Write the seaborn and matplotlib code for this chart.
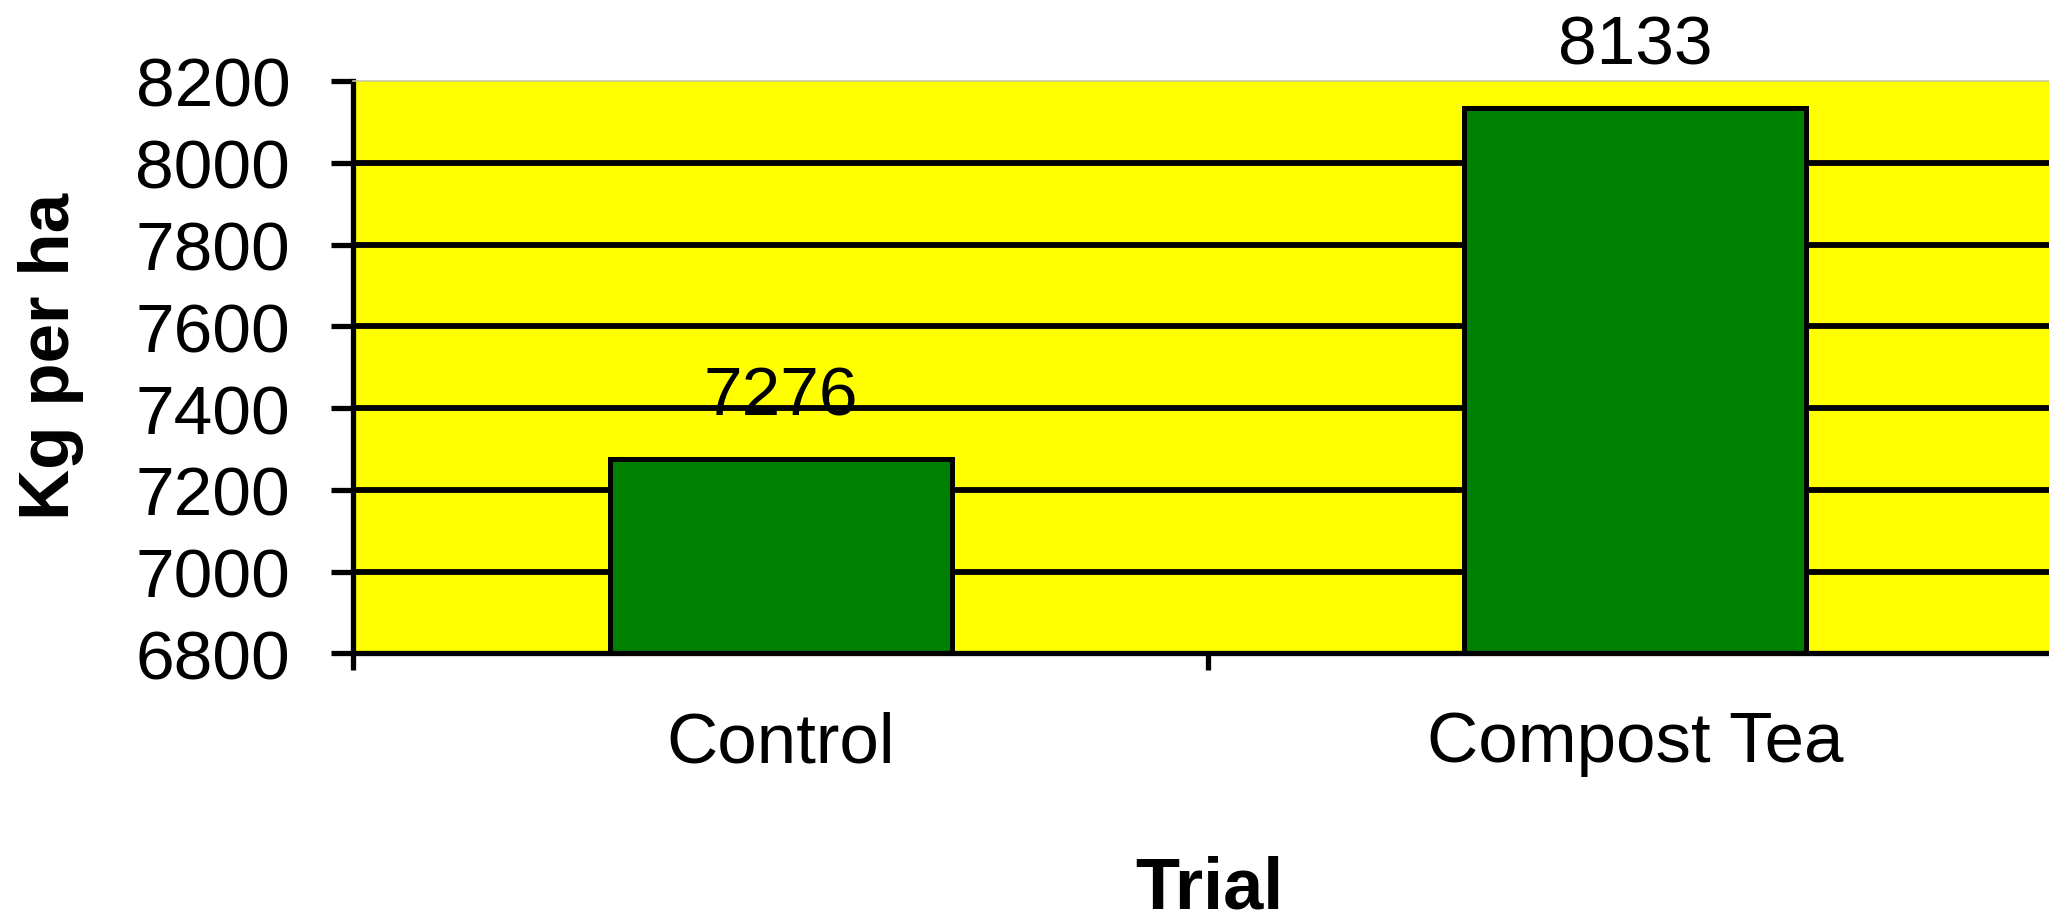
import matplotlib
matplotlib.use("Agg")
import matplotlib.pyplot as plt
import seaborn as sns
import pandas as pd

# Yield per treatment
trials = ["Control", "Compost Tea"]
yields = [7276, 8133]

# Axis scale
y_ticks = [6800, 7000, 7200, 7400, 7600, 7800, 8000, 8200]

plt.rcParams["font.family"] = ["Liberation Sans", "DejaVu Sans"]

df = pd.DataFrame({"Trial": trials, "Kg per ha": yields})

fig = plt.figure(figsize=(20.49, 9.2), dpi=100)
ax = fig.add_axes([0.1725, 0.2886, 0.8341, 0.6223])
ax.set_facecolor("#FFFF00")

sns.barplot(data=df, x="Trial", y="Kg per ha", color="#008000",
            saturation=1, edgecolor="black", linewidth=3.6, width=0.4,
            errorbar=None, ax=ax, zorder=2)

ax.set_xlim(-0.5, 1.5)
ax.set_ylim(y_ticks[0], y_ticks[-1])

# horizontal grid between the axis limits
ax.hlines(y_ticks[1:-1], -0.5, 1.5, colors="black", linewidth=4.2, zorder=1)

# value labels above the bars
ax.bar_label(ax.containers[0], fmt="{:.0f}", padding=22, fontsize=50,
             color="black", zorder=4)

# y axis
ax.set_yticks(y_ticks)
ax.set_yticklabels([str(v) for v in y_ticks])
ax.tick_params(axis="y", direction="out", length=15.5, width=3.8,
               pad=30, labelsize=50, colors="black")

# x axis: category labels, ticks on the category boundaries
ax.set_xticks([0, 1])
ax.set_xticklabels(trials)
ax.set_xticks([-0.5, 0.5, 1.5], minor=True)
ax.tick_params(axis="x", which="major", length=0, pad=41, labelsize=51)
ax.tick_params(axis="x", which="minor", direction="out", length=12,
               width=3.8)

for side in ("left", "bottom"):
    ax.spines[side].set_linewidth(3.8)
    ax.spines[side].set_color("black")
ax.spines["top"].set_color("#c8c8a0")
ax.spines["top"].set_linewidth(1.2)
ax.spines["right"].set_visible(False)

ax.set_xlabel("Trial", fontsize=52, fontweight="bold")
ax.set_ylabel("Kg per ha", fontsize=51, fontweight="bold")
ax.xaxis.set_label_coords(0.501, -0.443)
ax.xaxis.label.set_va("baseline")
ax.yaxis.set_label_coords(-0.177, 0.521)
ax.yaxis.label.set_va("center")

fig.savefig("out.png", dpi=100, facecolor="white")
